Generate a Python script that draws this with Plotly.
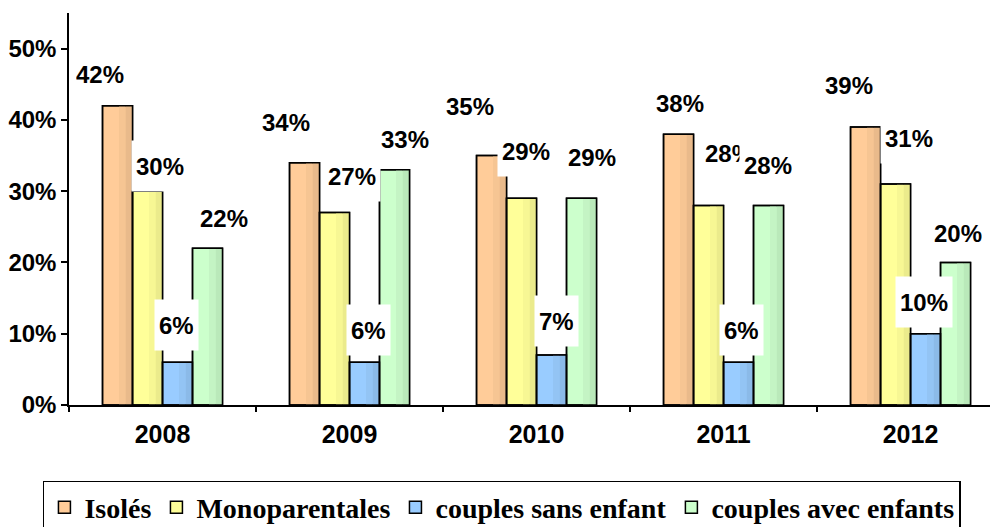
import plotly.graph_objects as go

# ---- data ----
years = ["2008", "2009", "2010", "2011", "2012"]
series_names = ["Isolés", "Monoparentales", "couples sans enfant", "couples avec enfants"]
isoles = [42, 34, 35, 38, 39]
monoparentales = [30, 27, 29, 28, 31]
couples_sans = [6, 6, 7, 6, 10]
couples_avec = [22, 33, 29, 28, 20]
y_tick_vals = [0, 10, 20, 30, 40, 50]
y_tick_text = ["0%", "10%", "20%", "30%", "40%", "50%"]

series_values = [isoles, monoparentales, couples_sans, couples_avec]

# ---- style ----
base_colors = ["#FFCC99", "#FFFF99", "#99CCFF", "#CCFFCC"]
mid_colors = ["#F6C593", "#F7F794", "#93C4F4", "#C4F4C4"]
dark_colors = ["#E9BA8B", "#EBEB8C", "#8BBAE8", "#BAE9BA"]

# label offsets (pixels) relative to the top-centre of each bar
lab_dx = [
    [-18, -19, -22, 1, -17],
    [12, 17, 4, 20, 13],
    [-1, 4, 5, 3, -2],
    [16, 10, 10, -1, 2],
]
lab_up = [
    [32, 41, 50, 31, 42],
    [25, 37, 47, 52, 46],
    [37, 32, 34, 32, 32],
    [30, 31, 41, 40, 29],
]

W = 0.1604  # bar width in category units
num_font = "Liberation Sans, Arial, sans-serif"
leg_font = "Liberation Serif, Times New Roman, serif"

fig = go.Figure()

# fills and shading stripes
for k, (name, vals) in enumerate(zip(series_names, series_values)):
    left = (k - 2) * W
    fig.add_trace(go.Bar(
        x=years, y=vals, name=name, width=W, offset=left,
        marker=dict(color=base_colors[k], line=dict(color="black", width=1.5)),
        hoverinfo="skip", showlegend=True,
    ))
    fig.add_trace(go.Bar(
        x=years, y=vals, width=0.22 * W, offset=left + 0.55 * W,
        marker=dict(color=mid_colors[k], line=dict(width=0)),
        hoverinfo="skip", showlegend=False,
    ))
    fig.add_trace(go.Bar(
        x=years, y=vals, width=0.23 * W, offset=left + 0.77 * W,
        marker=dict(color=dark_colors[k], line=dict(width=0)),
        hoverinfo="skip", showlegend=False,
    ))
# outlines on top
for k, vals in enumerate(series_values):
    left = (k - 2) * W
    fig.add_trace(go.Bar(
        x=years, y=vals, width=W, offset=left,
        marker=dict(color="rgba(0,0,0,0)", line=dict(color="black", width=1.5)),
        hoverinfo="skip", showlegend=False,
    ))

# value labels
annotations = []
for k, vals in enumerate(series_values):
    for i, v in enumerate(vals):
        annotations.append(dict(
            x=i + (k - 1.5) * W, y=v, xref="x", yref="y",
            text=f"{v}%", showarrow=False,
            xanchor="center", yanchor="middle",
            xshift=lab_dx[k][i], yshift=lab_up[k][i],
            font=dict(family=num_font, size=24, color="black", weight="bold"),
            bgcolor="white", height=42, borderpad=4,
        ))

fig.update_layout(
    width=990, height=527, autosize=False,
    margin=dict(l=69, r=0, t=13, b=122, pad=0),
    paper_bgcolor="white", plot_bgcolor="white",
    barmode="overlay",
    annotations=annotations,
    showlegend=True,
    legend=dict(
        orientation="h", xref="container", yref="container",
        x=0.507, xanchor="center", y=0.0873, yanchor="top",
        bordercolor="black", borderwidth=1.5, bgcolor="white",
        font=dict(family=leg_font, size=28, color="black", weight="bold"),
        traceorder="normal",
    ),
    xaxis=dict(
        type="category", categoryorder="array", categoryarray=years,
        range=[-0.5, 4.425], showline=True, linecolor="black", linewidth=1.5,
        ticks="outside", tickson="boundaries", ticklen=5, tickcolor="black", tickwidth=1.5,
        tickfont=dict(family=num_font, size=25, color="black", weight="bold"),
        ticklabelstandoff=6, automargin=False,
        showgrid=False, zeroline=False, fixedrange=True,
    ),
    yaxis=dict(
        range=[0, 55], tickvals=y_tick_vals, ticktext=y_tick_text,
        showline=True, linecolor="black", linewidth=1.5,
        ticks="outside", ticklen=6, tickcolor="black", tickwidth=1.5,
        tickfont=dict(family=num_font, size=24, color="black", weight="bold"),
        automargin=False,
        showgrid=False, zeroline=False, fixedrange=True,
    ),
)

fig.write_html(
    "out.html",
    config={"displayModeBar": False},
    post_script="document.body.style.margin='0px';document.body.style.overflow='hidden';",
)
